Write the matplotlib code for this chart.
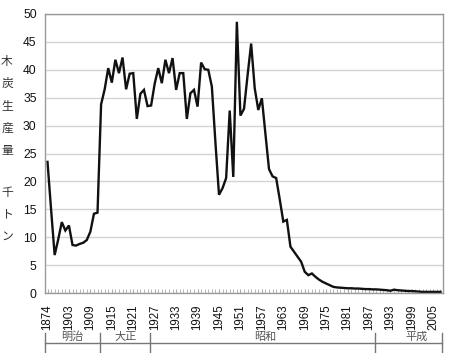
import numpy as np
import matplotlib
matplotlib.use("Agg")
import matplotlib.pyplot as plt
from matplotlib.transforms import blended_transform_factory

plt.rcParams['font.family'] = ['Liberation Sans', 'Noto Sans CJK JP']

# data: charcoal production (thousand tons)
years = [1874] + list(range(1898, 2008))
production = [
    23.5, 15.0, 6.8, 9.6, 12.7, 11.2, 12.1, 8.6, 8.5, 8.8,
    9.0, 9.5, 11.0, 14.2, 14.4, 33.8, 36.5, 40.3, 37.7, 41.8,
    39.4, 42.2, 36.5, 39.3, 39.4, 31.2, 35.7, 36.4, 33.5, 33.6,
    37.5, 40.3, 37.6, 41.8, 39.4, 42.1, 36.4, 39.4, 39.4, 31.2,
    35.8, 36.4, 33.4, 41.3, 40.1, 40.0, 37.0, 27.0, 17.6, 18.8,
    20.6, 32.7, 20.8, 48.6, 31.8, 33.0, 39.0, 44.7, 36.7, 32.8,
    34.9, 28.5, 22.2, 20.9, 20.6, 16.8, 12.8, 13.1, 8.3, 7.4,
    6.5, 5.6, 3.8, 3.2, 3.5, 2.9, 2.4, 2.0, 1.7, 1.4,
    1.1, 1.0, 0.95, 0.9, 0.85, 0.85, 0.8, 0.8, 0.75, 0.7,
    0.7, 0.65, 0.65, 0.6, 0.55, 0.5, 0.4, 0.6, 0.5, 0.45,
    0.4, 0.35, 0.35, 0.3, 0.25, 0.2, 0.2, 0.2, 0.2, 0.2,
    0.2,
]
label_years = [1874] + list(range(1903, 2006, 6))
eras = ['明治', '大正', '昭和', '平成']
era_starts = [1912, 1926, 1989]
ylabel_top = '木炭生産量'
ylabel_unit = '千トン'

x = np.arange(len(years))

fig = plt.figure(figsize=(4.57, 3.53), dpi=100)
ax = fig.add_axes([45/457, 1-293/353, 398/457, 279/353])

ax.plot(x, production, color='#111111', lw=1.7, solid_joinstyle='miter')

ax.set_ylim(0, 50)
ax.set_yticks(np.arange(0, 51, 5))
ax.set_xlim(-0.7, len(years) - 0.3)
ax.grid(axis='y', color='#d4d4d4', lw=1)
ax.set_axisbelow(True)
for s in ax.spines.values():
    s.set_color('#999999')
    s.set_linewidth(1)

ax.set_xticks([years.index(y) for y in label_years])
ax.set_xticklabels([str(y) for y in label_years], rotation=90)
ax.set_xticks(x, minor=True)
ax.tick_params(axis='x', which='both', direction='in', length=3, color='#aaaaaa',
               labelsize=8.3, pad=8, labelcolor='#111111')
ax.tick_params(axis='y', length=0, labelsize=8.7, pad=6, labelcolor='#111111')

# vertical y-axis label
for i, ch in enumerate(ylabel_top):
    fig.text(7/457, 1 - (62 + 22.3*i)/353, ch, fontsize=8.5, color='#333333',
             ha='center', va='center')
for i, ch in enumerate(ylabel_unit):
    fig.text(7/457, 1 - (193 + 22*i)/353, ch, fontsize=8.5, color='#333333',
             ha='center', va='center')

# era brackets
tr = blended_transform_factory(ax.transData, fig.transFigure)
edges = [-0.7] + [years.index(y) - 0.2 for y in era_starts] + [len(years) - 0.6]
y_line = 1 - 343/353
ax.plot([edges[0], edges[-1]], [y_line, y_line], transform=tr, color='#777777',
        lw=1, clip_on=False)
for e in edges:
    ax.plot([e, e], [1 - 333/353, 0], transform=tr, color='#777777', lw=1,
            clip_on=False)
for i, name in enumerate(eras):
    mid = (edges[i] + edges[i+1]) / 2
    if name == '平成':
        mid = edges[i+1] - 7
    if name == '昭和':
        mid = years.index(1958)
    ax.text(mid, 1 - 337/353, name, transform=tr, fontsize=8, color='#555555',
            ha='center', va='center')

fig.savefig('out.png', dpi=100)
